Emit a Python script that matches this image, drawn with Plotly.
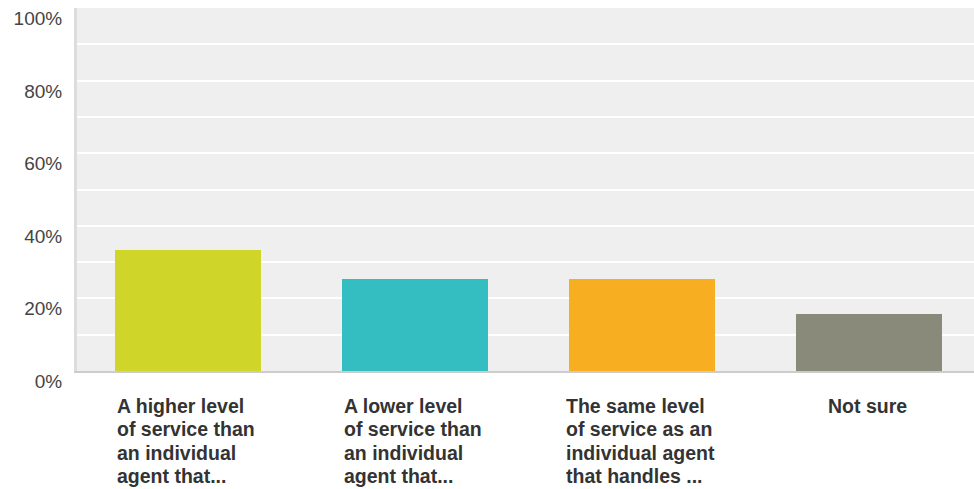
import plotly.graph_objects as go

categories = [["A higher level", "of service than", "an individual", "agent that..."],
              ["A lower level", "of service than", "an individual", "agent that..."],
              ["The same level", "of service as an", "individual agent", "that handles ..."],
              ["Not sure"]]
values = [33.3, 25.3, 25.3, 15.7]
colors = ["#d0d52a", "#35bec1", "#f7ae20", "#898a79"]
y_tickvals = [0, 20, 40, 60, 80, 100]
y_ticktext = ["0%", "20%", "40%", "60%", "80%", "100%"]

x_idx = list(range(len(categories)))

# approximate Arial Bold advance widths (per 1000 em) to size left-aligned label blocks
_W = {" ": 278, ".": 278, "A": 722, "N": 722, "T": 611, "a": 556, "c": 556, "d": 611,
      "e": 556, "f": 333, "g": 611, "h": 611, "i": 278, "l": 278, "m": 889, "n": 611,
      "o": 611, "r": 389, "s": 556, "t": 333, "u": 611, "v": 556, "w": 778}
LAB_SIZE = 19.5
LINE_STEP = 23.4


def text_w(s):
    return sum(_W.get(c, 600) for c in s) * LAB_SIZE / 1000.0


fig = go.Figure()
fig.add_trace(go.Bar(x=x_idx, y=values, marker=dict(color=colors, line=dict(width=0)),
                     width=0.643, hoverinfo="skip"))

for i, lines in enumerate(categories):
    block_w = max(text_w(s) for s in lines) + 4
    for k, s in enumerate(lines):
        fig.add_annotation(x=i, y=0, xref="x", yref="paper", yshift=-(22 + k * LINE_STEP),
                           text="<b>" + s + "</b>", showarrow=False, width=block_w,
                           xanchor="center", yanchor="top", align="left",
                           font=dict(family="Liberation Sans, Arial, sans-serif",
                                     size=LAB_SIZE, color="#333333"))

fig.update_layout(
    width=974, height=489,
    margin=dict(l=77, r=0, t=8, b=118),
    paper_bgcolor="white", plot_bgcolor="#efefef",
    showlegend=False, bargap=0,
    font=dict(family="Liberation Sans, Arial, sans-serif"),
)
fig.update_xaxes(range=[-0.491, 3.461], showticklabels=False, showgrid=False, zeroline=False,
                 showline=True, linecolor="#cccccc", linewidth=2, fixedrange=True,
                 automargin=False)
fig.update_yaxes(range=[0, 100], tickvals=y_tickvals, ticktext=y_ticktext,
                 showgrid=True, gridcolor="white", gridwidth=2,
                 minor=dict(dtick=10, showgrid=True, gridcolor="white", gridwidth=2),
                 zeroline=False, showline=True, linecolor="#dddddd", linewidth=3,
                 ticklabelposition="outside bottom", ticklabelstandoff=8,
                 ticklabelshift=-3,
                 tickfont=dict(size=19, color="#444444"), fixedrange=True,
                 automargin=False)

fig.write_html("out.html", config={"displayModeBar": False, "staticPlot": True},
               post_script="document.body.style.margin='0';document.body.style.overflow='hidden';")
